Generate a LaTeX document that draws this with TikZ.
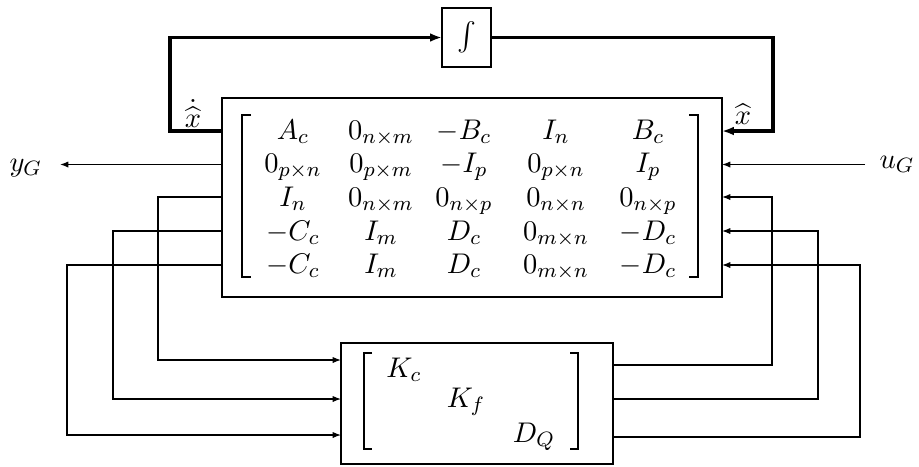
\documentclass[tikz,border=0pt]{standalone}
\usepackage{amsmath}
\usetikzlibrary{arrows.meta}
\begin{document}
\begin{tikzpicture}[x=0.385pt,y=-0.385pt,
  every node/.style={font=\fontsize{10.8pt}{13pt}\selectfont},
  blk/.style={draw,line width=0.8pt,inner sep=0pt,outer sep=0pt},
  ent/.style={anchor=base,inner sep=0pt},
  lab/.style={anchor=base west,inner sep=0pt},
  sig/.style={line width=0.45pt,-{Latex[length=3.2pt,width=2.4pt]}},
  fbarr/.style={line width=1.3pt,-{Latex[length=4.6pt,width=3.4pt]}},
  brk/.style={line width=0.7pt}]
\useasboundingbox (0,0) rectangle (919,466);

% blocks
\node[blk,minimum width=192.5pt,minimum height=76.6pt] (main) at (472,197.5) {};
\node[blk,minimum width=18.9pt,minimum height=22.7pt] (int) at (466.5,37.5) {$\int$};
\node[blk,minimum width=104.7pt,minimum height=46.6pt] (K) at (477,403.5) {};

% brackets
\draw[brk] (251,115) -| (242,277) -- (251,277);
\draw[brk] (689,115) -| (698,277) -- (689,277);
\draw[brk] (372,353) -| (364,449) -- (372,449);
\draw[brk] (570,353) -| (578,449) -- (570,449);

% matrix entries
\node[ent] (m11) at (293,139) {$A_c$};
\node[ent] (m12) at (381,139) {$0_{n\times m}$};
\node[ent] (m13) at (464,139) {$-B_c$};
\node[ent] (m14) at (556,139) {$I_n$};
\node[ent] (m15) at (648,139) {$B_c$};
\node[ent] (m21) at (293,172) {$0_{p\times n}$};
\node[ent] (m22) at (381,172) {$0_{p\times m}$};
\node[ent] (m23) at (464,172) {$-I_p$};
\node[ent] (m24) at (556,172) {$0_{p\times n}$};
\node[ent] (m25) at (648,172) {$I_p$};
\node[ent] (m31) at (293,206) {$I_n$};
\node[ent] (m32) at (381,206) {$0_{n\times m}$};
\node[ent] (m33) at (464,206) {$0_{n\times p}$};
\node[ent] (m34) at (556,206) {$0_{n\times n}$};
\node[ent] (m35) at (648,206) {$0_{n\times p}$};
\node[ent] (m41) at (293,240) {$-C_c$};
\node[ent] (m42) at (381,240) {$I_m$};
\node[ent] (m43) at (464,240) {$D_c$};
\node[ent] (m44) at (556,240) {$0_{m\times n}$};
\node[ent] (m45) at (648,240) {$-D_c$};
\node[ent] (m51) at (293,273) {$-C_c$};
\node[ent] (m52) at (381,273) {$I_m$};
\node[ent] (m53) at (464,273) {$D_c$};
\node[ent] (m54) at (556,273) {$0_{m\times n}$};
\node[ent] (m55) at (648,273) {$-D_c$};

\node[ent] (kc) at (404,377) {$K_c$};
\node[ent] (kf) at (466,407) {$K_f$};
\node[ent] (dq) at (534,442) {$D_Q$};

% labels
\node[ent] (xd) at (193,127) {$\dot{\widehat{x}}$};
\node[ent] (xh) at (743,124) {$\widehat{x}$};
\node[lab] (yG) at (9,171) {$y_G$};
\node[lab] (uG) at (879,168) {$u_G$};

% level coordinates
\coordinate (r1) at (0,131);
\coordinate (r2) at (0,164.5);
\coordinate (r3) at (0,197);
\coordinate (r4) at (0,231);
\coordinate (r5) at (0,265);
\coordinate (fbL) at (170,0);
\coordinate (fbR) at (773,0);
\coordinate (yGend) at (60,164.5);
\coordinate (uGst) at (865,164.5);
\coordinate (L3) at (158,360);
\coordinate (L4) at (113,399);
\coordinate (L5) at (67,435);
\coordinate (R3) at (772,365);
\coordinate (R4) at (818,399);
\coordinate (R5) at (860,437);

% feedback through integrator
\draw[fbarr] (main.west |- r1) -| (fbL |- int.west) -- (int.west);
\draw[fbarr] (int.east) -| (fbR |- r1) -- (main.east |- r1);

% external signals
\draw[sig] (main.west |- r2) -- (yGend);
\draw[sig] (uGst) -- (main.east |- r2);

% loops to K
\draw[sig] (main.west |- r3) -| (L3) -- (K.west |- L3);
\draw[sig] (main.west |- r4) -| (L4) -- (K.west |- L4);
\draw[sig] (main.west |- r5) -| (L5) -- (K.west |- L5);

% loops back
\draw[sig] (K.east |- R3) -| (R3 |- r3) -- (main.east |- r3);
\draw[sig] (K.east |- R4) -| (R4 |- r4) -- (main.east |- r4);
\draw[sig] (K.east |- R5) -| (R5 |- r5) -- (main.east |- r5);
\end{tikzpicture}
\end{document}
